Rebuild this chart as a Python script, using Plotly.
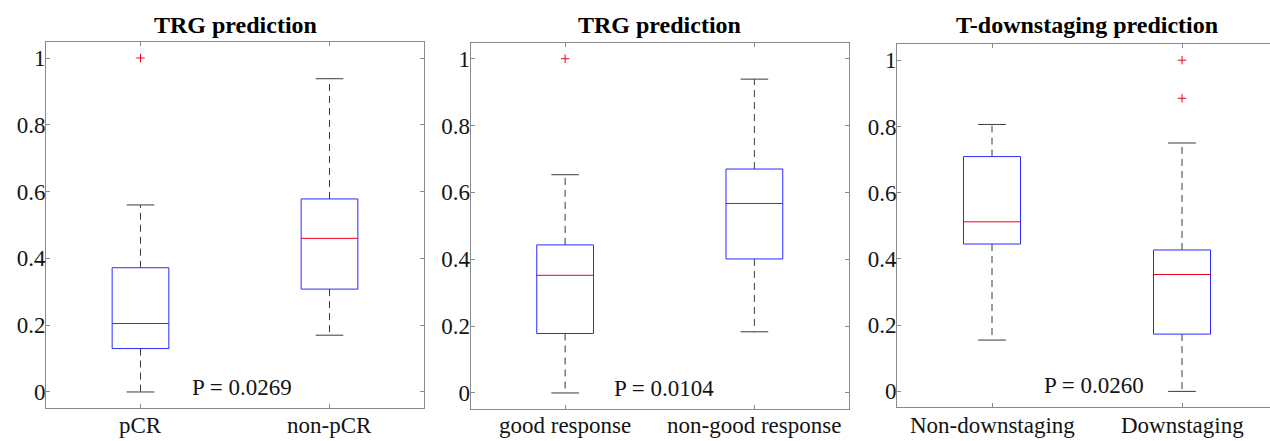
import plotly.graph_objects as go

# ---------------- data ----------------
titles = ["TRG prediction", "TRG prediction", "T-downstaging prediction"]
categories = [["pCR", "non-pCR"],
              ["good response", "non-good response"],
              ["Non-downstaging", "Downstaging"]]
# per panel, per group: lower whisker, q1, median, q3, upper whisker
lower_whisker = [[0.0, 0.170], [0.0, 0.183], [0.155, 0.0]]
q1_values     = [[0.130, 0.308], [0.178, 0.401], [0.445, 0.173]]
median_values = [[0.205, 0.460], [0.352, 0.567], [0.512, 0.353]]
q3_values     = [[0.372, 0.578], [0.443, 0.670], [0.709, 0.427]]
upper_whisker = [[0.560, 0.938], [0.653, 0.939], [0.806, 0.750]]
outliers      = [[[1.0], []], [[1.0], []], [[], [1.0, 0.885]]]
p_labels = ["P = 0.0269", "P = 0.0104", "P = 0.0260"]
p_label_x = [1.537, 1.523, 1.537]
p_label_y = [0.014, 0.014, 0.018]
y_ticks = [0, 0.2, 0.4, 0.6, 0.8, 1]
y_tick_text = ["0", "0.2", "0.4", "0.6", "0.8", "1"]

# ---------------- style ----------------
W, H = 1270, 441
FONT = "Liberation Serif"
BOX_HW = 0.15
CAP_HW = 0.073
BOX_COLOR = "#2a2aff"
MED_COLOR = "#e8001c"
WHISK_COLOR = "#3a3a3a"
AXIS_COLOR = "#8a8a8a"
TEXT_COLOR = "#141414"
# pixel geometry of the three axes: left, right (virtual), top, bottom
panel_px = [(46, 424, 42, 408), (470.5, 849, 42.7, 409), (897, 1277, 44.3, 407.3)]
Y_RANGE = [-0.048, 1.048]
XLABEL_MID_PX = 425

fig = go.Figure()
layout = {}
annotations = []

for i in range(3):
    left, right, top, bottom = panel_px[i]
    px_per_unit = (right - left) / 2.0
    right_vis = min(right, W)
    xr = [0.5, 0.5 + (right_vis - left) / px_per_unit]
    xdom = [left / W, right_vis / W]
    ydom = [1 - bottom / H, 1 - top / H]
    sfx = "" if i == 0 else str(i + 1)
    xa, ya = "x" + sfx, "y" + sfx

    for g in range(2):
        pos = g + 1
        lo, q1, md, q3, hi = (lower_whisker[i][g], q1_values[i][g], median_values[i][g],
                              q3_values[i][g], upper_whisker[i][g])
        # whiskers (dashed)
        fig.add_trace(go.Scatter(x=[pos, pos, None, pos, pos], y=[q3, hi, None, q1, lo],
                                 mode="lines", line=dict(color=WHISK_COLOR, width=1, dash="7px,5px"),
                                 xaxis=xa, yaxis=ya, showlegend=False, hoverinfo="skip"))
        # caps
        fig.add_trace(go.Scatter(x=[pos - CAP_HW, pos + CAP_HW, None, pos - CAP_HW, pos + CAP_HW],
                                 y=[hi, hi, None, lo, lo],
                                 mode="lines", line=dict(color=WHISK_COLOR, width=1),
                                 xaxis=xa, yaxis=ya, showlegend=False, hoverinfo="skip"))
        # box
        fig.add_trace(go.Scatter(x=[pos - BOX_HW, pos + BOX_HW, pos + BOX_HW, pos - BOX_HW, pos - BOX_HW],
                                 y=[q1, q1, q3, q3, q1], fill="toself", fillcolor="white",
                                 mode="lines", line=dict(color=BOX_COLOR, width=1),
                                 xaxis=xa, yaxis=ya, showlegend=False, hoverinfo="skip"))
        # median
        fig.add_trace(go.Scatter(x=[pos - BOX_HW, pos + BOX_HW], y=[md, md],
                                 mode="lines", line=dict(color=MED_COLOR, width=1),
                                 xaxis=xa, yaxis=ya, showlegend=False, hoverinfo="skip"))
        # outliers
        if outliers[i][g]:
            fig.add_trace(go.Scatter(x=[pos] * len(outliers[i][g]), y=outliers[i][g], mode="markers",
                                     marker=dict(symbol="cross-thin", size=6,
                                                 line=dict(color=MED_COLOR, width=1)),
                                     xaxis=xa, yaxis=ya, showlegend=False, hoverinfo="skip"))
        # category label under the axis
        annotations.append(dict(text=categories[i][g], xref=xa, yref="paper", x=pos,
                                y=1 - XLABEL_MID_PX / H, xanchor="center", yanchor="middle",
                                showarrow=False, font=dict(family=FONT, size=23, color=TEXT_COLOR)))

    layout["xaxis" + sfx] = dict(domain=xdom, range=xr, tickvals=[1, 2], showticklabels=False,
                                 showline=True, linecolor=AXIS_COLOR, linewidth=1, mirror="ticks",
                                 ticks="inside", ticklen=4, tickcolor=AXIS_COLOR,
                                 showgrid=False, zeroline=False, anchor=ya, automargin=False,
                                 fixedrange=True)
    layout["yaxis" + sfx] = dict(domain=ydom, range=Y_RANGE, tickvals=y_ticks, ticktext=y_tick_text,
                                 showline=True, linecolor=AXIS_COLOR, linewidth=1,
                                 mirror="ticks" if i < 2 else False,
                                 ticks="inside", ticklen=4, tickcolor=AXIS_COLOR,
                                 showgrid=False, zeroline=False, anchor=xa, automargin=False,
                                 ticklabelstandoff=-5,
                                 tickfont=dict(family=FONT, size=23, color=TEXT_COLOR),
                                 fixedrange=True)
    # title centred on the (virtual) full axis
    annotations.append(dict(text="<b>" + titles[i] + "</b>", xref="paper", yref="paper",
                            x=((left + right) / 2) / W, y=1 - 25 / H, xanchor="center", yanchor="middle",
                            showarrow=False, font=dict(family=FONT, size=24, color="black")))
    annotations.append(dict(text=p_labels[i], xref=xa, yref=ya, x=p_label_x[i], y=p_label_y[i],
                            xanchor="center", yanchor="middle", showarrow=False,
                            font=dict(family=FONT, size=23, color=TEXT_COLOR)))

fig.update_layout(width=W, height=H, margin=dict(l=0, r=0, t=0, b=0),
                  paper_bgcolor="white", plot_bgcolor="white", annotations=annotations,
                  **layout)
fig.write_html("out.html", config={"displayModeBar": False},
               post_script="document.body.style.margin='0';document.body.style.overflow='hidden';")
